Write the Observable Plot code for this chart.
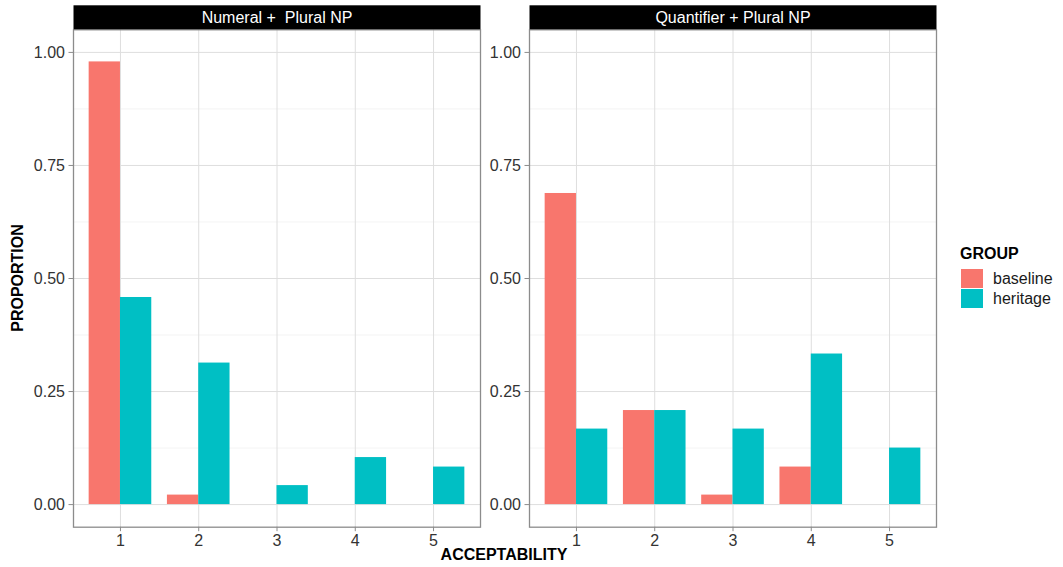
<!DOCTYPE html>
<html>
<head>
<meta charset="utf-8">
<script src="https://cdn.jsdelivr.net/npm/d3@7"></script>
<script src="https://cdn.jsdelivr.net/npm/@observablehq/plot@0.6"></script>
<style>
  html, body { margin: 0; padding: 0; background: #fff; }
  #wrap { position: relative; width: 1063px; height: 567px; font-family: "Liberation Sans", Arial, sans-serif; }
  .ttl { position: absolute; font-weight: bold; font-size: 16px; color: #000; white-space: nowrap; }
  .legend-title { position: absolute; left: 960px; top: 245px; font-weight: bold; font-size: 16px; color: #000; }
  .sw { position: absolute; left: 961px; width: 22px; height: 19px; }
  .lab { position: absolute; left: 993px; font-size: 16px; color: #1a1a1a; line-height: 19px; }
</style>
</head>
<body>
<div id="wrap"></div>
<script>
// ---- data ----
const panels = ["Numeral +  Plural NP", "Quantifier + Plural NP"];
const groups = ["baseline", "heritage"];
const groupColors = ["#F8766D", "#00BFC4"];
const acceptability = [1, 2, 3, 4, 5];
const numeralBaseline = [0.979, 0.021, 0, 0, 0];
const numeralHeritage = [0.458, 0.313, 0.042, 0.104, 0.083];
const quantifierBaseline = [0.688, 0.208, 0.021, 0.083, 0];
const quantifierHeritage = [0.167, 0.208, 0.167, 0.333, 0.125];
const yTicks = [0, 0.25, 0.5, 0.75, 1];
const yMinorTicks = [0.125, 0.375, 0.625, 0.875];

// ---- table ----
const rows = [];
const series = [
  [panels[0], groups[0], numeralBaseline],
  [panels[0], groups[1], numeralHeritage],
  [panels[1], groups[0], quantifierBaseline],
  [panels[1], groups[1], quantifierHeritage]
];
for (const [panel, group, vals] of series) {
  vals.forEach((v, i) => { if (v > 0) rows.push({panel, group, acc: acceptability[i], value: v}); });
}
const half = 0.4;

const plot = Plot.plot({
  width: 1063,
  height: 567,
  marginLeft: 72.7,
  marginRight: 127,
  marginTop: 29.3,
  marginBottom: 40.3,
  style: { fontFamily: '"Liberation Sans", Arial, sans-serif', fontSize: "15px", color: "#333", background: "#fff" },
  fx: { domain: panels, paddingInner: 0.1068, paddingOuter: 0, axis: null },
  x: { domain: [0.4, 5.6] },
  y: { domain: [-0.05, 1.05] },
  color: { domain: groups, range: groupColors },
  marks: [
    Plot.gridY(yMinorTicks, { stroke: "#f0f0f0", strokeOpacity: 1, strokeWidth: 0.8 }),
    Plot.gridY(yTicks, { stroke: "#dedede", strokeOpacity: 1, strokeWidth: 1 }),
    Plot.gridX(acceptability, { stroke: "#dedede", strokeOpacity: 1, strokeWidth: 1 }),
    Plot.rectY(rows, {
      fx: "panel",
      x1: d => d.group === "baseline" ? d.acc - half : d.acc,
      x2: d => d.group === "baseline" ? d.acc : d.acc + half,
      y1: 0,
      y2: "value",
      fill: "group",
      inset: 0
    }),
    Plot.frame({ stroke: "#8c8c8c", strokeWidth: 1.3 }),
    Plot.axisY(yTicks, { tickFormat: d3.format(".2f"), tickSize: 4.5, tickPadding: 4, label: null, facetAnchor: null, stroke: "#8c8c8c", fill: "#333" }),
    Plot.axisX(acceptability, { tickFormat: d3.format("d"), tickSize: 4.5, tickPadding: 3, label: null, stroke: "#8c8c8c", fill: "#333" })
  ]
});

const wrap = document.getElementById("wrap");
wrap.appendChild(plot);

// enlarge tick labels
const svg = d3.select(plot);
svg.selectAll("text").attr("font-size", 16).style("font-size", "16px");

// facet strips drawn above each panel frame
const svgBox = plot.getBoundingClientRect();
const frames = [];
svg.selectAll('g[aria-label="frame"] rect').each(function() {
  const b = this.getBoundingClientRect();
  frames.push({x: b.left - svgBox.left, w: b.width});
});
frames.sort((a, b) => a.x - b.x);
const stripG = svg.append("g");
frames.forEach((f, i) => {
  stripG.append("rect").attr("x", f.x).attr("y", 5.3).attr("width", f.w).attr("height", 24).attr("fill", "#000");
  stripG.append("text").attr("x", f.x + f.w / 2).attr("y", 17.8).attr("text-anchor", "middle")
    .attr("dominant-baseline", "central").attr("fill", "#fff").style("font-size", "16px").text(panels[i]);
});

// axis titles
const xt = document.createElement("div");
xt.className = "ttl"; xt.textContent = "ACCEPTABILITY";
xt.style.left = "504px"; xt.style.top = "546px"; xt.style.transform = "translateX(-50%)";
wrap.appendChild(xt);
const yt = document.createElement("div");
yt.className = "ttl"; yt.textContent = "PROPORTION";
yt.style.left = "18px"; yt.style.top = "278px"; yt.style.transform = "translate(-50%, -50%) rotate(-90deg)";
wrap.appendChild(yt);

// legend
const lt = document.createElement("div");
lt.className = "legend-title"; lt.textContent = "GROUP";
wrap.appendChild(lt);
groups.forEach((g, i) => {
  const s = document.createElement("div");
  s.className = "sw"; s.style.top = (269 + i * 20) + "px"; s.style.background = groupColors[i];
  wrap.appendChild(s);
  const l = document.createElement("div");
  l.className = "lab"; l.style.top = (269 + i * 20) + "px"; l.textContent = g;
  wrap.appendChild(l);
});
</script>
</body>
</html>
